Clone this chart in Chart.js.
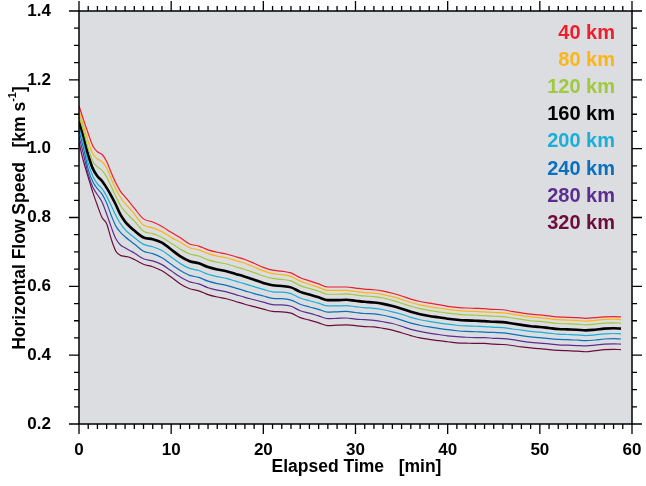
<!DOCTYPE html>
<html>
<head>
<meta charset="utf-8">
<script src="https://cdn.jsdelivr.net/npm/chart.js@4.4.1/dist/chart.umd.min.js"></script>
<style>
  html, body { margin: 0; padding: 0; background: #ffffff; }
  #wrap { width: 646px; height: 486px; }
</style>
</head>
<body>
<div id="wrap"><canvas id="flow" width="646" height="486"></canvas></div>
<script>
// elapsed time [min]
const times = [0, 0.5, 1, 1.5, 2, 2.5, 3, 3.5, 4, 4.5, 5, 5.5, 6, 7, 8, 9, 10, 11,
  12, 13, 14, 15, 16, 17, 18, 19, 20, 21, 22, 23, 24, 25, 26, 27, 28, 29, 30,
  31, 32, 33, 34, 35, 36, 37, 38, 39, 40, 41, 42, 43, 44, 45, 46, 47, 48, 49, 50,
  51, 52, 53, 54, 55, 56, 57, 58, 58.8];

// horizontal flow speed [km/s] per altitude
const speed40 = [1.125, 1.083, 1.044, 1.008, 0.991, 0.983, 0.963, 0.930, 0.900, 0.876, 0.860, 0.844, 0.827, 0.796, 0.787, 0.774, 0.757, 0.741,
  0.723, 0.717, 0.706, 0.699, 0.694, 0.686, 0.678, 0.667, 0.655, 0.647, 0.644, 0.639, 0.625, 0.616, 0.607, 0.598, 0.598, 0.598, 0.595,
  0.592, 0.590, 0.586, 0.580, 0.572, 0.563, 0.556, 0.551, 0.547, 0.542, 0.539, 0.537, 0.536, 0.535, 0.533, 0.532, 0.527, 0.523, 0.519, 0.517,
  0.514, 0.511, 0.510, 0.509, 0.507, 0.509, 0.511, 0.512, 0.511];
const speed80 = [1.108, 1.065, 1.020, 0.985, 0.970, 0.962, 0.944, 0.912, 0.882, 0.858, 0.841, 0.826, 0.810, 0.778, 0.770, 0.759, 0.742, 0.728,
  0.712, 0.706, 0.695, 0.688, 0.683, 0.675, 0.667, 0.656, 0.645, 0.637, 0.634, 0.629, 0.615, 0.606, 0.597, 0.588, 0.588, 0.588, 0.585,
  0.582, 0.580, 0.576, 0.570, 0.562, 0.553, 0.546, 0.541, 0.537, 0.533, 0.530, 0.528, 0.527, 0.526, 0.524, 0.523, 0.519, 0.515, 0.511, 0.509,
  0.506, 0.503, 0.502, 0.501, 0.499, 0.501, 0.504, 0.505, 0.503];
const speed120 = [1.094, 1.050, 1.000, 0.963, 0.947, 0.937, 0.918, 0.890, 0.861, 0.835, 0.818, 0.803, 0.790, 0.760, 0.753, 0.742, 0.725, 0.708,
  0.694, 0.688, 0.677, 0.670, 0.665, 0.657, 0.649, 0.640, 0.630, 0.623, 0.620, 0.616, 0.602, 0.594, 0.586, 0.577, 0.577, 0.578, 0.575,
  0.572, 0.570, 0.566, 0.559, 0.551, 0.542, 0.535, 0.530, 0.526, 0.522, 0.519, 0.517, 0.516, 0.515, 0.513, 0.512, 0.508, 0.504, 0.500, 0.498,
  0.495, 0.492, 0.491, 0.490, 0.488, 0.490, 0.493, 0.494, 0.493];
const speed160 = [1.080, 1.035, 0.982, 0.942, 0.920, 0.906, 0.886, 0.863, 0.837, 0.808, 0.788, 0.774, 0.762, 0.742, 0.737, 0.727, 0.707, 0.687,
  0.673, 0.667, 0.656, 0.649, 0.644, 0.636, 0.628, 0.619, 0.610, 0.603, 0.601, 0.597, 0.584, 0.576, 0.568, 0.560, 0.560, 0.561, 0.558,
  0.555, 0.553, 0.549, 0.543, 0.535, 0.526, 0.519, 0.514, 0.510, 0.506, 0.503, 0.501, 0.500, 0.499, 0.497, 0.496, 0.492, 0.488, 0.484, 0.482,
  0.479, 0.476, 0.475, 0.474, 0.472, 0.474, 0.477, 0.478, 0.477];
const speed200 = [1.065, 1.015, 0.958, 0.920, 0.898, 0.884, 0.862, 0.834, 0.806, 0.782, 0.765, 0.752, 0.742, 0.722, 0.715, 0.704, 0.685, 0.666,
  0.652, 0.646, 0.635, 0.628, 0.623, 0.615, 0.607, 0.599, 0.591, 0.584, 0.583, 0.579, 0.566, 0.558, 0.551, 0.543, 0.543, 0.544, 0.541,
  0.538, 0.536, 0.532, 0.526, 0.519, 0.510, 0.503, 0.498, 0.494, 0.490, 0.487, 0.485, 0.484, 0.483, 0.481, 0.480, 0.476, 0.473, 0.469, 0.467,
  0.464, 0.461, 0.460, 0.459, 0.457, 0.459, 0.462, 0.463, 0.462];
const speed240 = [1.052, 1.000, 0.940, 0.904, 0.884, 0.868, 0.842, 0.806, 0.775, 0.757, 0.744, 0.733, 0.723, 0.702, 0.695, 0.683, 0.664, 0.646,
  0.632, 0.626, 0.615, 0.608, 0.603, 0.595, 0.587, 0.579, 0.572, 0.565, 0.564, 0.560, 0.548, 0.540, 0.533, 0.525, 0.526, 0.527, 0.524,
  0.521, 0.520, 0.516, 0.510, 0.502, 0.493, 0.487, 0.482, 0.478, 0.474, 0.471, 0.469, 0.468, 0.467, 0.466, 0.465, 0.461, 0.457, 0.453, 0.451,
  0.448, 0.446, 0.445, 0.444, 0.442, 0.444, 0.447, 0.448, 0.447];
const speed280 = [1.035, 0.982, 0.925, 0.888, 0.866, 0.845, 0.810, 0.772, 0.738, 0.720, 0.712, 0.704, 0.697, 0.680, 0.674, 0.663, 0.645, 0.627,
  0.613, 0.607, 0.596, 0.589, 0.584, 0.576, 0.568, 0.561, 0.554, 0.547, 0.546, 0.542, 0.529, 0.522, 0.514, 0.506, 0.507, 0.508, 0.505,
  0.503, 0.501, 0.497, 0.492, 0.484, 0.475, 0.469, 0.464, 0.460, 0.456, 0.454, 0.452, 0.451, 0.451, 0.449, 0.448, 0.445, 0.441, 0.437, 0.435,
  0.433, 0.430, 0.429, 0.428, 0.427, 0.429, 0.432, 0.433, 0.432];
const speed320 = [1.018, 0.962, 0.917, 0.873, 0.835, 0.800, 0.782, 0.737, 0.702, 0.690, 0.687, 0.684, 0.678, 0.664, 0.657, 0.645, 0.627, 0.607,
  0.593, 0.587, 0.576, 0.569, 0.564, 0.556, 0.548, 0.541, 0.534, 0.527, 0.526, 0.522, 0.509, 0.502, 0.494, 0.486, 0.487, 0.488, 0.486,
  0.483, 0.482, 0.478, 0.473, 0.465, 0.457, 0.450, 0.446, 0.442, 0.439, 0.436, 0.435, 0.434, 0.434, 0.432, 0.431, 0.428, 0.424, 0.421, 0.419,
  0.416, 0.414, 0.413, 0.412, 0.410, 0.413, 0.416, 0.417, 0.416];

const altitudes = ["40 km", "80 km", "120 km", "160 km", "200 km", "240 km", "280 km", "320 km"];
const seriesValues = [speed40, speed80, speed120, speed160, speed200, speed240, speed280, speed320];
const seriesColors = ["#ee1f2a", "#fdb515", "#9fca3c", "#000000", "#19afd9", "#0a70bd", "#5c2d91", "#6c0d3d"];

const xTicks = [0, 10, 20, 30, 40, 50, 60];
const yTicks = [0.2, 0.4, 0.6, 0.8, 1.0, 1.2, 1.4];

const FONT = "'Liberation Sans', Arial, Helvetica, sans-serif";

// plot background, frame, ticks on all four sides, axis titles, text legend
const frame = {
  id: "frame",
  beforeDatasetsDraw(chart) {
    const { ctx, chartArea: a } = chart;
    ctx.save();
    ctx.fillStyle = "#dcdde0";
    ctx.fillRect(a.left, a.top, a.right - a.left, a.bottom - a.top);
    ctx.restore();
  },
  afterDatasetsDraw(chart) {
    const { ctx, chartArea: a, scales: { x, y } } = chart;
    ctx.save();
    ctx.strokeStyle = "#000";
    ctx.lineWidth = 1.5;
    ctx.strokeRect(a.left, a.top, a.right - a.left, a.bottom - a.top);

    ctx.lineWidth = 1.3;
    ctx.beginPath();
    for (let t = 0; t <= 60; t += 1) {
      const px = x.getPixelForValue(t);
      const len = t % 10 === 0 ? 10 : 5;
      ctx.moveTo(px, a.bottom); ctx.lineTo(px, a.bottom + len);
      ctx.moveTo(px, a.top); ctx.lineTo(px, a.top - len);
    }
    for (let i = 0; i <= 24; i++) {
      const v = 0.2 + i * 0.05;
      const py = y.getPixelForValue(v);
      const len = i % 4 === 0 ? 10 : 5;
      ctx.moveTo(a.left, py); ctx.lineTo(a.left - len, py);
      ctx.moveTo(a.right, py); ctx.lineTo(a.right + len, py);
    }
    ctx.stroke();

    // legend: right-aligned labels in series colours
    ctx.font = "bold 20px " + FONT;
    ctx.textAlign = "right";
    ctx.textBaseline = "middle";
    altitudes.forEach((name, i) => {
      ctx.fillStyle = seriesColors[i];
      ctx.fillText(name, a.right - 17, 33 + i * 27.2);
    });

    // axis titles
    ctx.fillStyle = "#000";
    ctx.font = "bold 17.5px " + FONT;
    ctx.textAlign = "center";
    ctx.fillText("Elapsed Time   [min]", (a.left + a.right) / 2 + 1, 467);

    ctx.translate(20, 218);
    ctx.rotate(-Math.PI / 2);
    const main = "Horizontal Flow Speed   [km s";
    const sup = "-1";
    const tail = "]";
    ctx.font = "bold 17.5px " + FONT;
    const wMain = ctx.measureText(main).width;
    const wTail = ctx.measureText(tail).width;
    ctx.font = "bold 11px " + FONT;
    const wSup = ctx.measureText(sup).width;
    let cx = -(wMain + wSup + wTail) / 2;
    ctx.textAlign = "left";
    ctx.font = "bold 17.5px " + FONT;
    ctx.fillText(main, cx, 0);
    cx += wMain;
    ctx.font = "bold 11px " + FONT;
    ctx.fillText(sup, cx, -7);
    cx += wSup;
    ctx.font = "bold 17.5px " + FONT;
    ctx.fillText(tail, cx, 0);
    ctx.restore();
  }
};

new Chart(document.getElementById("flow"), {
  type: "line",
  data: {
    datasets: altitudes.map((name, i) => ({
      label: name,
      data: times.map((t, k) => ({ x: t, y: seriesValues[i][k] })),
      borderColor: seriesColors[i],
      borderWidth: i === 3 ? 2.6 : 1.2,
      pointRadius: 0,
      cubicInterpolationMode: "monotone",
      fill: false,
    })),
  },
  options: {
    responsive: false,
    animation: false,
    layout: { padding: { top: 11, right: 14, left: 0, bottom: 0 } },
    plugins: {
      legend: { display: false },
      tooltip: { enabled: false },
    },
    scales: {
      x: {
        type: "linear",
        min: 0,
        max: 60,
        afterFit: (scale) => {
          scale.height = 62;
          scale.paddingLeft = 0;
          scale.paddingRight = 0;
        },
        afterBuildTicks: (scale) => { scale.ticks = xTicks.map((v) => ({ value: v })); },
        ticks: {
          color: "#000",
          padding: 8,
          maxRotation: 0,
          font: { family: FONT, size: 17, weight: "bold" },
          callback: (v) => String(v),
        },
        grid: { display: false },
        border: { display: false },
      },
      y: {
        min: 0.2,
        max: 1.4,
        afterFit: (scale) => {
          scale.width = 79;
          scale.paddingTop = 0;
          scale.paddingBottom = 0;
        },
        afterBuildTicks: (scale) => { scale.ticks = yTicks.map((v) => ({ value: v })); },
        ticks: {
          color: "#000",
          padding: 20,
          font: { family: FONT, size: 17, weight: "bold" },
          callback: (v) => Number(v).toFixed(1),
        },
        grid: { display: false },
        border: { display: false },
      },
    },
  },
  plugins: [frame],
});
</script>
</body>
</html>
